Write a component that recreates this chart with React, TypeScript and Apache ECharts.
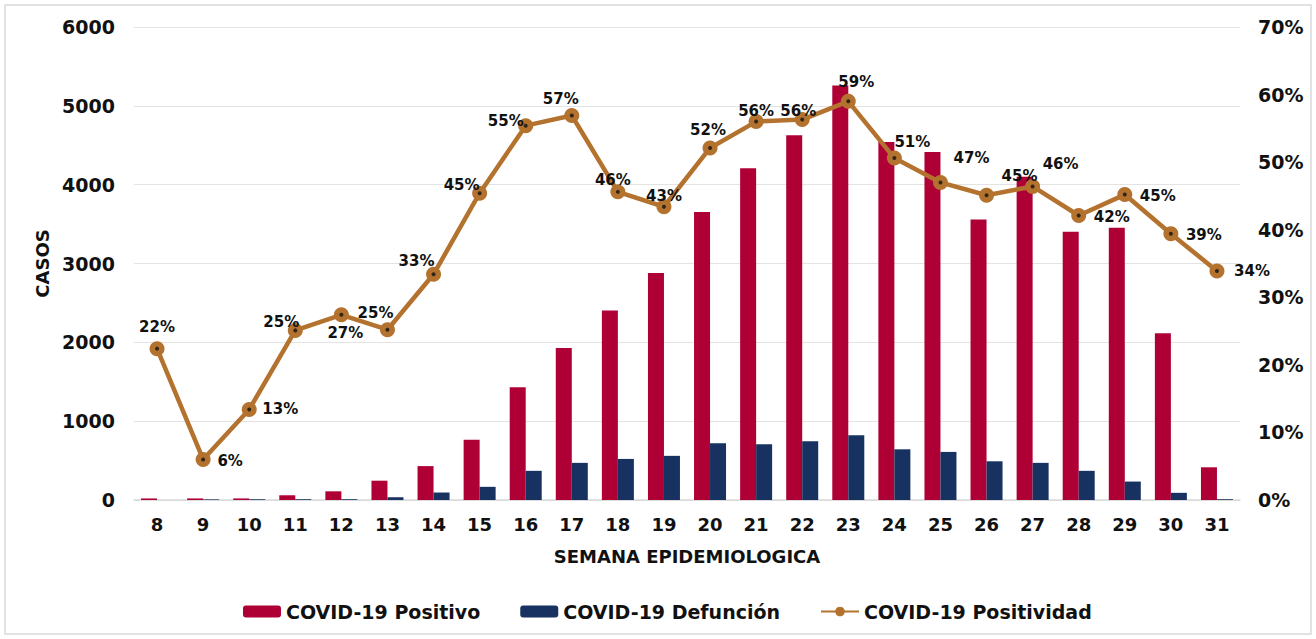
import React, { useEffect, useRef } from "react";
import * as echarts from "echarts";

const weeks = ["8", "9", "10", "11", "12", "13", "14", "15", "16", "17", "18", "19", "20", "21", "22", "23", "24", "25", "26", "27", "28", "29", "30", "31"];
const positivos = [20, 20, 20, 60, 110, 245, 430, 765, 1430, 1927, 2403, 2880, 3652, 4209, 4627, 5259, 4542, 4415, 3559, 4100, 3403, 3453, 2116, 415];
const defunciones = [0, 8, 8, 10, 10, 35, 95, 167, 370, 471, 521, 560, 719, 706, 744, 820, 643, 610, 491, 471, 370, 234, 91, 10];
const positividad = [22.4, 6.0, 13.4, 25.1, 27.4, 25.2, 33.4, 45.4, 55.4, 56.9, 45.6, 43.4, 52.1, 56.0, 56.3, 59.0, 50.6, 47.0, 45.1, 46.4, 42.1, 45.2, 39.4, 33.9];
const leftTicks = { min: 0, max: 6000, interval: 1000 };
const rightTicks = { min: 0, max: 70, interval: 10 };

// label placement (offset of label centre from point), styling only
const labelOffsets: number[][] = [
  [0, -22], [27, 2], [31, 0], [-14, -8], [4, 18], [-12, -17], [-17, -13], [-18, -8],
  [-20, -5], [-11, -17], [-5, -12], [0, -11], [-2, -18], [0, -11], [-4, -9], [8, -19],
  [18, -16], [31, -24], [33, -19], [28, -22], [33, 1], [33, 1], [33, 1], [35, 0],
];

const FONT = "DejaVu Sans";
const RED = "#AF0036";
const NAVY = "#173261";
const COPPER = "#B4722F";

export default function App() {
  const ref = useRef<HTMLDivElement>(null);
  useEffect(() => {
    if (!ref.current) return;
    const chart = echarts.init(ref.current, null, { renderer: "svg" });
    const lineData = positividad.map((v, i) => ({
      value: v,
      label: { offset: labelOffsets[i] },
    }));
    chart.setOption({
      animation: false,
      backgroundColor: "#ffffff",
      textStyle: { fontFamily: FONT },
      graphic: [
        {
          type: "rect",
          shape: { x: 5, y: 5, width: 1306, height: 629 },
          style: { fill: "none", stroke: "#D9D9D9", lineWidth: 1.5 },
          silent: true,
          z: -10,
        },
      ],
      grid: { left: 134, right: 76, top: 27, bottom: 139 },
      legend: {
        data: ["COVID-19 Positivo", "COVID-19 Defunción", "COVID-19 Positividad"],
        left: 238,
        top: 597,
        itemWidth: 38,
        itemHeight: 12,
        itemGap: 40,
        textStyle: { fontFamily: FONT, fontWeight: "bold", fontSize: 19, color: "#111" },
      },
      xAxis: {
        type: "category",
        data: weeks,
        axisLine: { lineStyle: { color: "#D9D9D9", width: 1.5 } },
        axisTick: { show: false },
        axisLabel: { fontFamily: FONT, fontWeight: "bold", fontSize: 18, color: "#111", margin: 15 },
        name: "SEMANA EPIDEMIOLOGICA",
        nameLocation: "middle",
        nameGap: 47,
        nameTextStyle: { fontFamily: FONT, fontWeight: "bold", fontSize: 18, color: "#111" },
      },
      yAxis: [
        {
          type: "value",
          ...leftTicks,
          axisLine: { show: false },
          axisTick: { show: false },
          splitLine: { lineStyle: { color: "#E3E3E3", width: 1 } },
          axisLabel: {
            fontFamily: FONT,
            fontWeight: "bold",
            fontSize: 19,
            color: "#111",
            margin: 19,
            formatter: (v: number) => String(v),
          },
          name: "CASOS",
          nameLocation: "middle",
          nameRotate: 90,
          nameGap: 78,
          nameTextStyle: { fontFamily: FONT, fontWeight: "bold", fontSize: 18, color: "#111" },
        },
        {
          type: "value",
          ...rightTicks,
          axisLine: { show: false },
          axisTick: { show: false },
          splitLine: { show: false },
          axisLabel: {
            fontFamily: FONT,
            fontWeight: "bold",
            fontSize: 19,
            color: "#111",
            margin: 18,
            formatter: "{value}%",
          },
        },
      ],
      series: [
        {
          name: "COVID-19 Positivo",
          type: "bar",
          data: positivos,
          barWidth: 16,
          barGap: "0%",
          itemStyle: { color: RED },
        },
        {
          name: "COVID-19 Defunción",
          type: "bar",
          data: defunciones,
          barWidth: 16,
          itemStyle: { color: NAVY },
        },
        {
          name: "COVID-19 Positividad",
          type: "line",
          yAxisIndex: 1,
          data: lineData,
          symbol: "circle",
          symbolSize: 15,
          lineStyle: { color: COPPER, width: 4.5 },
          itemStyle: { color: COPPER },
          label: {
            show: true,
            position: "inside",
            fontFamily: FONT,
            fontWeight: "bold",
            fontSize: 15,
            color: "#111",
            formatter: (p: any) => Math.round(p.value) + "%",
          },
          z: 5,
        },
        {
          name: "dots",
          type: "scatter",
          yAxisIndex: 1,
          data: positividad,
          symbol: "circle",
          symbolSize: 4,
          itemStyle: { color: "#111" },
          silent: true,
          z: 6,
        },
      ],
    });
    return () => chart.dispose();
  }, []);
  return <div ref={ref} style={{ position: "fixed", left: 0, top: 0, width: 1316, height: 639 }} />;
}
